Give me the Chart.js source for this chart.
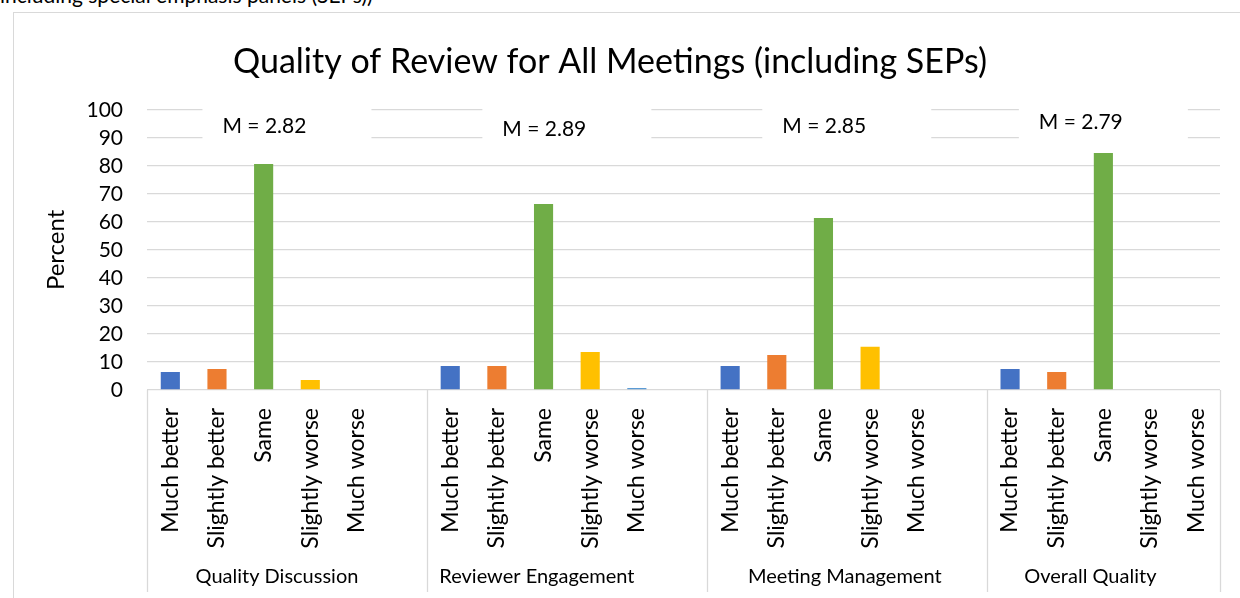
<!DOCTYPE html>
<html>
<head>
<meta charset="utf-8">
<script src="https://cdn.jsdelivr.net/npm/chart.js@4/dist/chart.umd.min.js"></script>
<style>
  body { margin: 0; background: #fff; width: 1240px; height: 598px; overflow: hidden; position: relative; }
  #caption { position: absolute; left: 0; top: -18px; font: 21px Lato, sans-serif; color: #000; white-space: nowrap; }
  #frame { position: absolute; left: 13px; top: 12px; width: 1300px; height: 700px; border: 1.5px solid #d9d9d9; }
  #chart { position: absolute; left: 0; top: 0; }
</style>
</head>
<body>
<div id="caption">including special emphasis panels (SEPs))</div>
<div id="frame"></div>
<canvas id="chart" width="1240" height="598"></canvas>
<script>
// Chart data
const groups = ["Quality Discussion", "Reviewer Engagement", "Meeting Management", "Overall Quality"];
const responses = ["Much better", "Slightly better", "Same", "Slightly worse", "Much worse"];
const qualityDiscussion = [6.4, 7.5, 80.7, 3.6, 0];
const reviewerEngagement = [8.6, 8.6, 66.4, 13.6, 0.7];
const meetingManagement = [8.6, 12.5, 61.4, 15.4, 0];
const overallQuality = [7.5, 6.4, 84.6, 0, 0];
const means = ["M = 2.82", "M = 2.89", "M = 2.85", "M = 2.79"];
const yTicks = [0, 10, 20, 30, 40, 50, 60, 70, 80, 90, 100];
const responseColors = ["#4472C4", "#ED7D31", "#70AD47", "#FFC000", "#5B9BD5"];

const FONT = "Lato, 'Open Sans', sans-serif";
const GRID = "#d9d9d9";

// Excel leaves an empty slot after each group except the last
const seriesByGroup = [qualityDiscussion, reviewerEngagement, meetingManagement, overallQuality];
const labels = [];
const values = [];
const colors = [];
const groupBounds = [0];
seriesByGroup.forEach((vals, g) => {
  responses.forEach((r, i) => {
    labels.push(r);
    values.push(vals[i]);
    colors.push(responseColors[i]);
  });
  if (g < seriesByGroup.length - 1) {
    labels.push("");
    values.push(null);
    colors.push("#fff");
  }
  groupBounds.push(labels.length);
});

const groupPlugin = {
  id: "groupPlugin",
  beforeDatasetsDraw(chart, args, opts) {
    const x = chart.scales.x;
    const y = chart.scales.y;
    const catW = (x.right - x.left) / labels.length;
    const ctx = chart.ctx;
    ctx.save();
    means.forEach((m, g) => {
      const center = x.left + (groupBounds[g] + groupBounds[g + 1]) / 2 * catW;
      const left = center - opts.boxWidth / 2;
      const top = y.getPixelForValue(102);
      const bottom = y.getPixelForValue(87);
      ctx.fillStyle = "#fff";
      ctx.fillRect(left, top, opts.boxWidth, bottom - top);
      ctx.fillStyle = "#000";
      ctx.font = "21px " + FONT;
      ctx.textAlign = "left";
      ctx.textBaseline = "middle";
      ctx.fillText(m, left + 20, y.getPixelForValue(opts.meanY[g]));
    });
    ctx.restore();
  },
  afterDraw(chart, args, opts) {
    const x = chart.scales.x;
    const catW = (x.right - x.left) / labels.length;
    const ctx = chart.ctx;
    ctx.save();
    ctx.strokeStyle = GRID;
    ctx.lineWidth = 1.3;
    groupBounds.forEach(b => {
      const px = Math.round(x.left + b * catW) + 0.5;
      ctx.beginPath();
      ctx.moveTo(px, chart.chartArea.bottom);
      ctx.lineTo(px, opts.dividerBottom);
      ctx.stroke();
    });
    ctx.fillStyle = "#000";
    ctx.font = "20px " + FONT;
    ctx.textAlign = "center";
    ctx.textBaseline = "middle";
    groups.forEach((name, g) => {
      const center = x.left + (groupBounds[g] + groupBounds[g + 1]) / 2 * catW;
      ctx.fillText(name, center + opts.labelNudge[g], opts.labelY);
    });
    ctx.restore();
  }
};

new Chart(document.getElementById("chart").getContext("2d"), {
  type: "bar",
  data: {
    labels: labels,
    datasets: [
      {
        data: values,
        backgroundColor: colors,
        barPercentage: 0.41,
        categoryPercentage: 1
      }
    ]
  },
  options: {
    responsive: false,
    animation: false,
    devicePixelRatio: 1,
    layout: { padding: { left: 0, right: 20, top: 0, bottom: 0 } },
    plugins: {
      legend: { display: false },
      tooltip: { enabled: false },
      title: {
        display: true,
        text: "Quality of Review for All Meetings (including SEPs)",
        color: "#000",
        font: { family: FONT, size: 34, weight: "normal" },
        padding: { top: 42, bottom: 27 }
      },
      groupPlugin: {
        boxWidth: 169,
        meanY: [94.3, 93.2, 94.0, 95.7],
        labelNudge: [-10, -30, -2, -13],
        labelY: 577,
        dividerBottom: 592
      }
    },
    scales: {
      x: {
        grid: { display: false },
        border: { display: false },
        ticks: {
          autoSkip: false,
          minRotation: 90,
          maxRotation: 90,
          padding: 10,
          color: "#000",
          font: { family: FONT, size: 23 }
        },
        afterFit: s => { s.height = 208; }
      },
      y: {
        min: 0,
        max: 100,
        afterBuildTicks: s => { s.ticks = yTicks.map(v => ({ value: v })); },
        grid: { color: GRID, lineWidth: 1.3, drawTicks: false },
        border: { display: false },
        ticks: {
          autoSkip: false,
          padding: 24,
          color: "#000",
          font: { family: FONT, size: 21 }
        },
        title: {
          display: true,
          text: "Percent",
          color: "#000",
          font: { family: FONT, size: 24 },
          padding: { top: 42, bottom: 0 }
        },
        afterFit: s => { s.width = 147; }
      }
    }
  },
  plugins: [groupPlugin]
});
</script>
</body>
</html>
